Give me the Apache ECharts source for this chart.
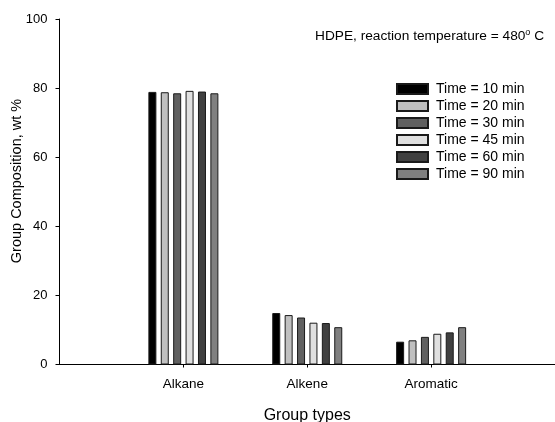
<!DOCTYPE html>
<html>
<head>
<meta charset="utf-8">
<script src="https://cdn.jsdelivr.net/npm/echarts@6/dist/echarts.min.js"></script>
<style>
  html,body{margin:0;padding:0;background:#fff;}
  #chart{width:555px;height:422px;}
</style>
</head>
<body>
<div id="chart"></div>
<script>
// group composition of HDPE pyrolysis oil at 480 C, by reaction time
const groups = ['', 'Alkane', 'Alkene', 'Aromatic', ''];
const times = ['Time = 10 min','Time = 20 min','Time = 30 min','Time = 45 min','Time = 60 min','Time = 90 min'];
const alkane   = [78.9, 78.8, 78.5, 79.2, 79.0, 78.5];
const alkene   = [14.9, 14.3, 13.6, 12.1, 12.0, 10.8];
const aromatic = [6.6, 7.0, 8.0, 8.9, 9.3, 10.8];
const yTicks = [0, 20, 40, 60, 80, 100];

const FILL = ['#000000','#c0c0c0','#606060','#e0e0e0','#404040','#808080'];
const FONT = '"Liberation Sans", Arial, sans-serif';

const series = times.map((name, i) => ({
  name, type:'bar', barWidth:8, barGap:'55%',
  itemStyle:{color:FILL[i], borderColor:'#1a1a1a', borderWidth:1},
  data:[null, alkane[i], alkene[i], aromatic[i], null]
}));

const c = echarts.init(document.getElementById('chart'), null, {renderer:'canvas'});
c.setOption({
  animation:false,
  backgroundColor:'#fff',
  textStyle:{fontFamily:FONT, color:'#000'},
  title:{
    left:315, top:28, padding:0,
    text:'{a|HDPE, reaction temperature = 480}{s|o}{a| C}',
    textStyle:{fontWeight:'normal', rich:{
      a:{fontSize:13.7, fontFamily:FONT, fontWeight:'normal', color:'#000', lineHeight:16},
      s:{fontSize:9, fontFamily:FONT, fontWeight:'normal', color:'#000', verticalAlign:'top', lineHeight:16}
    }}
  },
  legend:{
    orient:'vertical', left:396, top:82, padding:0, icon:'rect',
    itemWidth:31, itemHeight:10, itemGap:3,
    textStyle:{fontSize:14, fontFamily:FONT, color:'#000', lineHeight:14, padding:[0,0,0,3]},
    data:times
  },
  // y-axis title sits a little above the axis middle in the original
  graphic:[{
    type:'text', x:17, y:181, rotation:Math.PI/2,
    style:{text:'Group Composition, wt %', font:'14.5px ' + FONT, fill:'#000', align:'center', verticalAlign:'middle'}
  }],
  grid:{left:59.5, right:0, top:19, bottom:57.5, outerBoundsMode:'none', containLabel:false},
  xAxis:{
    type:'category', data:groups, boundaryGap:false,
    name:'Group types', nameLocation:'middle', nameGap:43,
    nameTextStyle:{fontSize:16, fontFamily:FONT, color:'#000'},
    axisLine:{lineStyle:{color:'#000', width:1}},
    axisTick:{length:3, lineStyle:{color:'#000'}, interval:(i, v) => v !== ''},
    axisLabel:{interval:0, fontSize:13.5, fontFamily:FONT, color:'#000', margin:13},
    splitLine:{show:false}
  },
  yAxis:{
    type:'value', min:yTicks[0], max:yTicks[yTicks.length-1], interval:20,
    axisLine:{show:true, lineStyle:{color:'#000', width:1}},
    axisTick:{show:true, length:4, lineStyle:{color:'#000'}},
    axisLabel:{fontSize:13, fontFamily:FONT, color:'#000', margin:12},
    splitLine:{show:false}
  },
  series
});
</script>
</body>
</html>
